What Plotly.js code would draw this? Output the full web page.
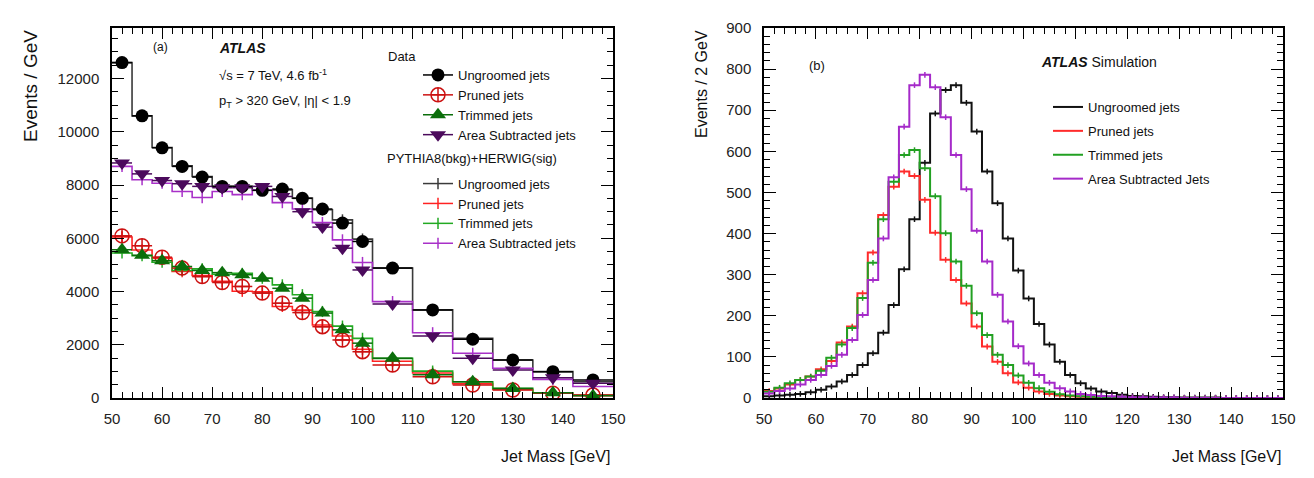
<!DOCTYPE html>
<html>
<head>
<meta charset="utf-8">
<script src="https://cdn.plot.ly/plotly-3.0.1.min.js"></script>
<style>
  html, body { margin: 0; padding: 0; background: #fff; }
  #chart { width: 1314px; height: 478px; }
</style>
</head>
<body>
<div id="chart"></div>
<script>
// ---------- (a) jet mass in data and MC, variable-width bins [GeV] ----------
const binEdgesA = [50, 54, 58, 62, 66, 70, 74, 78, 82, 86, 90, 94, 98, 102, 110, 118, 126, 134, 142, 150];

const dataUngroomed = [12600, 10600, 9400, 8700, 8300, 7950, 7950, 7800, 7850, 7500, 7100, 6570, 5880, 4880, 3310, 2210, 1430, 990, 680];
const dataPruned    = [6090, 5720, 5290, 4880, 4560, 4340, 4190, 3940, 3560, 3210, 2680, 2180, 1740, 1240, 800, 490, 300, 180, 110];
const dataTrimmed   = [5570, 5360, 5160, 4940, 4790, 4710, 4630, 4500, 4120, 3750, 3190, 2560, 2060, 1490, 870, 610, 360, 200, 80];
const dataAreaSub   = [8830, 8420, 8170, 8050, 7950, 7900, 7900, 7950, 7570, 7000, 6420, 5630, 4810, 3530, 2330, 1490, 1050, 760, 550];

const mcUngroomed = [12600, 10600, 9410, 8720, 8320, 7950, 7950, 7820, 7820, 7510, 7070, 6690, 5970, 4880, 3310, 2240, 1430, 990, 610];
const mcPruned    = [6050, 5560, 5250, 4750, 4600, 4380, 4010, 3990, 3440, 3300, 2740, 2330, 1830, 1380, 940, 540, 320, 180, 90];
const mcTrimmed   = [5450, 5350, 5100, 4790, 4850, 4650, 4680, 4500, 4250, 3880, 3250, 2700, 2240, 1490, 1010, 610, 360, 200, 110];
const mcAreaSub   = [8700, 8200, 8070, 7760, 7530, 7760, 7640, 7820, 7340, 7100, 6590, 5940, 5090, 3620, 2450, 1680, 1120, 700, 430];

// ---------- (b) simulated jet mass, 2 GeV bins from 50 to 150 GeV ----------
const massLowB = 50, massHighB = 150, binWidthB = 2;

const simUngroomed = [4, 6, 8, 10, 14, 20, 28, 40, 56, 80,
                      109, 159, 226, 313, 435, 572, 692, 749, 761, 718,
                      648, 551, 474, 388, 310, 242, 180, 130, 88, 56,
                      36, 23, 16, 12, 8, 5, 4, 3, 2, 2,
                      1, 1, 1, 1, 0, 0, 0, 0, 0, 0];
const simPruned    = [17, 23, 33, 44, 52, 70, 90, 135, 174, 255,
                      354, 445, 514, 551, 540, 482, 402, 336, 287, 230,
                      174, 125, 88, 60, 38, 25, 16, 10, 6, 4,
                      3, 2, 1, 1, 0, 0, 0, 0, 0, 0,
                      0, 0, 0, 0, 0, 0, 0, 0, 0, 0];
const simTrimmed   = [15, 25, 36, 44, 52, 66, 98, 130, 170, 243,
                      329, 435, 526, 591, 603, 559, 491, 401, 332, 273,
                      206, 153, 105, 80, 55, 37, 24, 15, 9, 6,
                      4, 3, 2, 1, 1, 0, 0, 0, 0, 0,
                      0, 0, 0, 0, 0, 0, 0, 0, 0, 0];
const simAreaSub   = [11, 17, 23, 33, 44, 56, 78, 105, 141, 202,
                      287, 388, 537, 660, 761, 786, 756, 683, 591, 508,
                      407, 332, 251, 186, 126, 84, 56, 37, 24, 16,
                      10, 7, 5, 4, 3, 2, 2, 1, 1, 1,
                      0, 0, 0, 0, 0, 0, 0, 0, 0, 0];

const seriesNames = ['Ungroomed jets', 'Pruned jets', 'Trimmed jets', 'Area Subtracted jets'];
const seriesNamesB = ['Ungroomed jets', 'Pruned jets', 'Trimmed jets', 'Area Subtracted Jets'];

// ---------- helpers ----------
const FONT = 'Liberation Sans, Arial, Helvetica, sans-serif';
const W = 1314, H = 478, TOP = 28, BOTTOM = 398;
const px2x = p => p / W;
const px2y = p => (BOTTOM - p) / (BOTTOM - TOP);

const centersA = binEdgesA.slice(0, -1).map((e, i) => (e + binEdgesA[i + 1]) / 2);
const halfWidthsA = binEdgesA.slice(0, -1).map((e, i) => (binEdgesA[i + 1] - e) / 2);

const edgesB = [];
for (let e = massLowB; e <= massHighB; e += binWidthB) edgesB.push(e);
const centersB = edgesB.slice(0, -1).map(e => e + binWidthB / 2);

// histogram outline as a step line over the bin edges
function stepTrace(edges, vals, color, width, xa, ya, extra) {
  return Object.assign({
    type: 'scatter', mode: 'lines', xaxis: xa, yaxis: ya,
    x: edges.slice(), y: vals.concat([vals[vals.length - 1]]),
    line: { color: color, width: width, shape: 'hv' },
    hoverinfo: 'skip'
  }, extra || {});
}

// points separated by gaps, so the legend shows a line through the symbol
// while no line joins the points on the plot
function isolated(xs, ys, errs) {
  const x = [], y = [], e = [];
  xs.forEach((v, i) => {
    x.push(v, v); y.push(ys[i], null);
    if (errs) e.push(errs[i], 0);
  });
  return { x, y, e };
}

const dataSeries = [dataUngroomed, dataPruned, dataTrimmed, dataAreaSub];
const mcSeries = [mcUngroomed, mcPruned, mcTrimmed, mcAreaSub];
const dataColors = ['#000000', '#cc1111', '#0b6e0b', '#4b0a5c'];
const mcColors = ['#3a3a3a', '#ff2222', '#22aa22', '#a830c8'];
const dataSymbols = ['circle', 'circle-cross-open', 'triangle-up', 'triangle-down'];
const dataSizes = [13, 14, 14, 14];

const traces = [];

// MC histograms (a)
mcSeries.forEach((vals, k) => {
  traces.push(stepTrace(binEdgesA, vals, mcColors[k], 1.6, 'x', 'y', { showlegend: false }));
});
// MC bin-centre markers (small error crosses), carry the MC legend entries
mcSeries.forEach((vals, k) => {
  const p = isolated(centersA, vals);
  traces.push({
    type: 'scatter', mode: 'lines+markers', xaxis: 'x', yaxis: 'y',
    x: p.x, y: p.y, connectgaps: false,
    name: seriesNames[k], legend: 'legend', legendgroup: 'mc', legendrank: 10 + k,
    line: { color: mcColors[k], width: 1.5 },
    marker: { symbol: 'line-ns-open', size: 8, color: mcColors[k], line: { color: mcColors[k], width: 1.5 } },
    hoverinfo: 'skip'
  });
});
// data points (a)
dataSeries.forEach((vals, k) => {
  const p = isolated(centersA, vals, halfWidthsA);
  const open = dataSymbols[k].indexOf('open') >= 0;
  traces.push({
    type: 'scatter', mode: 'lines+markers', xaxis: 'x', yaxis: 'y',
    x: p.x, y: p.y, connectgaps: false,
    name: seriesNames[k], legend: 'legend', legendgroup: 'data', legendrank: 1 + k,
    line: { color: dataColors[k], width: 1.5 },
    marker: {
      symbol: dataSymbols[k], size: dataSizes[k],
      color: dataColors[k],
      line: { color: dataColors[k], width: open ? 1.5 : 0 }
    },
    error_x: { type: 'data', array: p.e, visible: true, color: dataColors[k], thickness: 1.5, width: 0 },
    hoverinfo: 'x+y'
  });
});

// simulation histograms (b)
const simSeries = [simUngroomed, simPruned, simTrimmed, simAreaSub];
const simColors = ['#111111', '#ff2b2b', '#22a022', '#a52ac9'];
simSeries.forEach((vals, k) => {
  traces.push(stepTrace(edgesB, vals, simColors[k], 2, 'x2', 'y2', {
    name: seriesNamesB[k], legend: 'legend2', legendgroup: 'b' + k, legendrank: k + 1, showlegend: true
  }));
  traces.push({
    type: 'scatter', mode: 'markers', xaxis: 'x2', yaxis: 'y2',
    x: centersB, y: vals, showlegend: false,
    marker: { symbol: 'line-ns-open', size: 4, color: simColors[k], line: { color: simColors[k], width: 1.5 } },
    hoverinfo: 'skip'
  });
});

// empty traces that bring up the top/right tick frames
traces.push({ type: 'scatter', x: [], y: [], xaxis: 'x3', yaxis: 'y3', showlegend: false, hoverinfo: 'skip' });
traces.push({ type: 'scatter', x: [], y: [], xaxis: 'x4', yaxis: 'y4', showlegend: false, hoverinfo: 'skip' });

const axisBase = {
  showline: true, linecolor: '#000', linewidth: 1.5, mirror: true,
  ticks: 'inside', tickcolor: '#000', tickwidth: 1.2,
  showgrid: false, zeroline: false, fixedrange: true,
  tickfont: { family: FONT, size: 15, color: '#222' }
};
const minorX = { dtick: 2, ticklen: 6, ticks: 'inside', tickcolor: '#000', tickwidth: 1 };

const xA = Object.assign({}, axisBase, {
  domain: [px2x(112), px2x(613)], range: [50, 150], dtick: 10, tick0: 50, ticklen: 11,
  minor: minorX, anchor: 'y', ticklabelstandoff: 6
});
const yA = Object.assign({}, axisBase, {
  domain: [0, 1], range: [0, 13900], dtick: 2000, tick0: 0, tickformat: 'd', ticklen: 12,
  minor: { dtick: 500, ticklen: 6, ticks: 'inside', tickcolor: '#000', tickwidth: 1 },
  anchor: 'x', ticklabelstandoff: 8
});
const xB = Object.assign({}, axisBase, {
  domain: [px2x(764), px2x(1283)], range: [50, 150], dtick: 10, tick0: 50, ticklen: 11,
  minor: minorX, anchor: 'y2', ticklabelstandoff: 6
});
const yB = Object.assign({}, axisBase, {
  domain: [0, 1], range: [0, 900], dtick: 100, tick0: 0, ticklen: 12,
  minor: { dtick: 20, ticklen: 6, ticks: 'inside', tickcolor: '#000', tickwidth: 1 },
  anchor: 'x2', ticklabelstandoff: 8
});

// tick-only copies on the top and right edges of each frame
function mirrorAxis(base, over, side, anchor) {
  return Object.assign({}, base, {
    overlaying: over, side: side, anchor: anchor,
    showline: false, mirror: false, showticklabels: false
  });
}
const xA3 = mirrorAxis(xA, 'x', 'top', 'y3');
const yA3 = mirrorAxis(yA, 'y', 'right', 'x3');
const xB4 = mirrorAxis(xB, 'x2', 'top', 'y4');
const yB4 = mirrorAxis(yB, 'y2', 'right', 'x4');

function label(text, xpx, ypx, size, opts) {
  return Object.assign({
    xref: 'paper', yref: 'paper', x: px2x(xpx), y: px2y(ypx),
    xanchor: 'left', yanchor: 'middle', showarrow: false, text: text,
    font: { family: FONT, size: size, color: '#111' }
  }, opts || {});
}

const annotations = [
  // axis titles
  label('Events / GeV', 30, TOP, 19, { textangle: -90, xanchor: 'center', yanchor: 'top' }),
  label('Jet Mass [GeV]', 612, 456, 16, { xanchor: 'right' }),
  label('Events / 2 GeV', 701, TOP, 16, { textangle: -90, xanchor: 'center', yanchor: 'top' }),
  label('Jet Mass [GeV]', 1283, 456, 16, { xanchor: 'right' }),
  // panel (a) texts
  label('(a)', 151, 47, 12),
  label('<b><i>ATLAS</i></b>', 217, 48, 14),
  label('\u221As = 7 TeV, 4.6 fb<sup>-1</sup>', 217, 75, 13),
  label('p<sub>T</sub> > 320 GeV, |\u03b7| < 1.9', 217, 101, 13),
  label('Data', 386, 56, 13),
  label('PYTHIA8(bkg)+HERWIG(sig)', 385, 158, 13),
  // panel (b) texts
  label('(b)', 807, 66, 13),
  label('<b><i>ATLAS</i></b> Simulation', 1039, 62, 14)
];

const legendBase = {
  bgcolor: 'rgba(0,0,0,0)', borderwidth: 0,
  font: { family: FONT, size: 13, color: '#111' },
  xanchor: 'left', yanchor: 'top', traceorder: 'grouped',
  itemclick: false, itemdoubleclick: false
};

const layout = {
  width: W, height: H,
  margin: { l: 0, r: 0, t: TOP, b: H - BOTTOM, pad: 0 },
  paper_bgcolor: '#fff', plot_bgcolor: '#fff',
  font: { family: FONT, color: '#111' },
  showlegend: true,
  xaxis: xA, yaxis: yA, xaxis2: xB, yaxis2: yB,
  xaxis3: xA3, yaxis3: yA3, xaxis4: xB4, yaxis4: yB4,
  legend: Object.assign({}, legendBase, { x: px2x(418), y: px2y(60), tracegroupgap: 29 }),
  legend2: Object.assign({}, legendBase, { x: px2x(1048), y: px2y(92), tracegroupgap: 4 }),
  annotations: annotations
};

Plotly.newPlot('chart', traces, layout, { displayModeBar: false, staticPlot: false, responsive: false });
</script>
</body>
</html>
